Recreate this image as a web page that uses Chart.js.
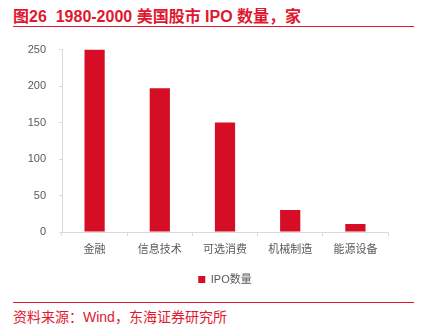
<!DOCTYPE html>
<html>
<head>
<meta charset="utf-8">
<script src="https://cdn.jsdelivr.net/npm/chart.js@4/dist/chart.umd.min.js"></script>
<style>
  body { margin: 0; width: 421px; height: 327px; background: #fff; position: relative; overflow: hidden;
         font-family: "Liberation Sans", "Noto Sans CJK SC", sans-serif; }
  #title { position: absolute; left: 13px; top: 3px; font-size: 16px; font-weight: bold; color: #e0182f; white-space: pre; }
  #line1 { position: absolute; left: 13px; top: 26px; width: 401px; height: 0; border-top: 1.5px solid #e0182f; }
  #line2 { position: absolute; left: 13px; top: 302px; width: 401px; height: 0; border-top: 1.5px solid #e0182f; }
  #source { position: absolute; left: 13px; top: 306px; font-size: 14px; color: #e0182f; }
  #wrap { position: absolute; left: 0; top: 30px; width: 421px; height: 265px; }
</style>
</head>
<body>
<div id="title">图26  1980-2000 美国股市 IPO 数量，家</div>
<div id="line1"></div>
<div id="wrap"><canvas id="chart"></canvas></div>
<div id="line2"></div>
<div id="source">资料来源：Wind，东海证券研究所</div>
<script>
// data
const categories = ["金融", "信息技术", "可选消费", "机械制造", "能源设备"];
const ipoCounts = [250, 197, 150, 30, 11];
const seriesName = "IPO数量";
const yTicks = [0, 50, 100, 150, 200, 250];

const red = "#d50d25";
const axisGray = "#d9d9d9";
const textGray = "#595959";
const fontFamily = '"Liberation Sans", "Noto Sans CJK SC", sans-serif';

const ctx = document.getElementById("chart").getContext("2d");

new Chart(ctx, {
  type: "bar",
  data: {
    labels: categories,
    datasets: [{
      label: seriesName,
      data: ipoCounts,
      backgroundColor: red,
      barPercentage: 0.31,
      categoryPercentage: 1.0
    }]
  },
  options: {
    responsive: true,
    maintainAspectRatio: false,
    animation: false,
    layout: { padding: { top: 18, right: 33, left: 0, bottom: 0 } },
    plugins: {
      tooltip: { enabled: false },
      legend: {
        position: "bottom",
        fullSize: false,
        labels: {
          boxWidth: 7,
          boxHeight: 7,
          padding: 8,
          color: textGray,
          font: { family: fontFamily, size: 11 }
        }
      }
    },
    scales: {
      x: {
        grid: { drawOnChartArea: false, drawTicks: true, tickLength: 4, color: axisGray },
        border: { color: axisGray },
        ticks: { color: textGray, font: { family: fontFamily, size: 11 }, padding: 7, maxRotation: 0 },
        afterFit: (scale) => { scale.height = 34; }
      },
      y: {
        min: 0,
        max: 250,
        afterBuildTicks: (scale) => { scale.ticks = yTicks.map(v => ({ value: v })); },
        grid: { drawOnChartArea: false, drawTicks: true, tickLength: 3, color: axisGray },
        border: { color: axisGray },
        ticks: { color: textGray, font: { family: fontFamily, size: 11 }, padding: 13 },
        afterFit: (scale) => { scale.width = 62; }
      }
    }
  }
});
</script>
</body>
</html>
